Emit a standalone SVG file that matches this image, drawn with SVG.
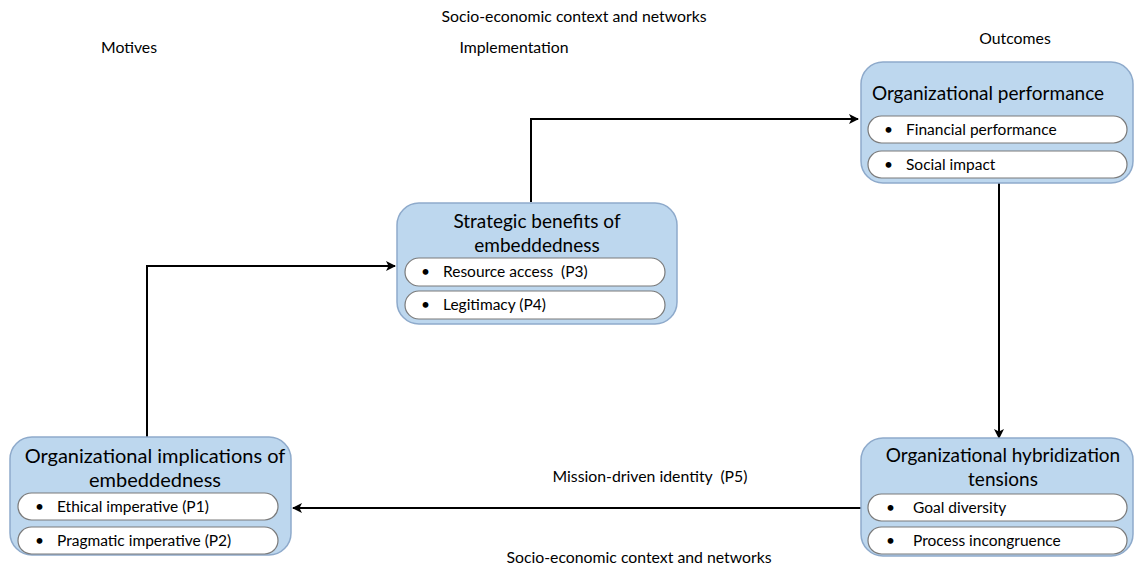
<svg xmlns="http://www.w3.org/2000/svg" width="1135" height="568" viewBox="0 0 1135 568">
<defs>
<marker id="ah" markerWidth="10" markerHeight="10" refX="9" refY="5" orient="auto" markerUnits="userSpaceOnUse"><path d="M0,0 L10,5 L0,10 L2.5,5 Z" fill="#000"/></marker>
<style>
text{font-family:Lato,"Open Sans","Liberation Sans",sans-serif;fill:#000;white-space:pre}
.box{fill:#bdd7ee;stroke:#8eaacb;stroke-width:1.5}
.pill{fill:#fff;stroke:#7a7a7a;stroke-width:1.2}
.title{font-size:19px;text-anchor:middle}
.big{font-size:20px}
.item{font-size:15.5px}
.lbl{font-size:15.8px;text-anchor:middle}
.conn{fill:none;stroke:#000;stroke-width:2;marker-end:url(#ah)}
</style>
</defs>
<rect width="1135" height="568" fill="#fff"/>
<g id="labels">
<text class="lbl" x="574" y="22">Socio-economic context and networks</text>
<text class="lbl" x="129" y="53">Motives</text>
<text class="lbl" x="514" y="53">Implementation</text>
<text class="lbl" x="1015" y="44">Outcomes</text>
<text class="lbl" x="650" y="482" xml:space="preserve">Mission-driven identity  (P5)</text>
<text class="lbl" x="639" y="563">Socio-economic context and networks</text>
</g>
<g id="connectors">
<path class="conn" d="M147,437 V266 H395"/>
<path class="conn" d="M531,202 V119 H858"/>
<path class="conn" d="M999,183 V438"/>
<path class="conn" d="M861,508 H293"/>
</g>
<g id="strategic">
<rect class="box" x="397" y="203" width="280" height="121" rx="22"/>
<text class="title" x="537" y="228">Strategic benefits of</text>
<text class="title" x="537" y="252">embeddedness</text>
<rect class="pill" x="405" y="258" width="260" height="28" rx="14"/>
<text class="item" x="421" y="277">•</text><text class="item" x="443" y="277" xml:space="preserve">Resource access  (P3)</text>
<rect class="pill" x="405" y="291" width="260" height="28" rx="14"/>
<text class="item" x="421" y="310">•</text><text class="item" x="443" y="310">Legitimacy (P4)</text>
</g>
<g id="performance">
<rect class="box" x="861" y="62" width="272" height="121" rx="22"/>
<text class="title" x="988" y="100">Organizational performance</text>
<rect class="pill" x="868" y="116" width="259" height="27" rx="13.5"/>
<text class="item" x="884" y="135">•</text><text class="item" x="906" y="135">Financial performance</text>
<rect class="pill" x="868" y="151" width="259" height="27" rx="13.5"/>
<text class="item" x="884" y="170">•</text><text class="item" x="906" y="170">Social impact</text>
</g>
<g id="implications">
<rect class="box" x="10" y="437" width="281" height="118" rx="22"/>
<text class="title big" x="155" y="463">Organizational implications of</text>
<text class="title big" x="155" y="487">embeddedness</text>
<rect class="pill" x="18" y="493" width="260" height="27" rx="13.5"/>
<text class="item" x="35" y="512">•</text><text class="item" x="57" y="512">Ethical imperative (P1)</text>
<rect class="pill" x="18" y="527" width="260" height="27" rx="13.5"/>
<text class="item" x="35" y="546">•</text><text class="item" x="57" y="546">Pragmatic imperative (P2)</text>
</g>
<g id="hybridization">
<rect class="box" x="861" y="438" width="272" height="118" rx="22"/>
<text class="title" x="1003" y="462">Organizational hybridization</text>
<text class="title" x="1003" y="486">tensions</text>
<rect class="pill" x="868" y="494" width="259" height="27" rx="13.5"/>
<text class="item" x="886" y="513">•</text><text class="item" x="913" y="513">Goal diversity</text>
<rect class="pill" x="868" y="527" width="259" height="27" rx="13.5"/>
<text class="item" x="886" y="546">•</text><text class="item" x="913" y="546">Process incongruence</text>
</g>
</svg>
